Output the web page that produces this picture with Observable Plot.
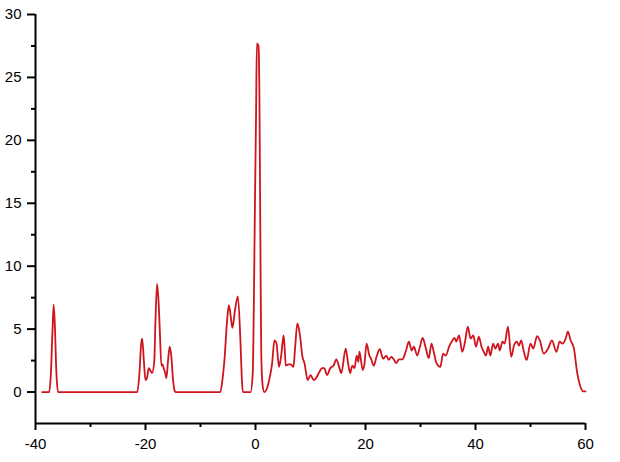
<!DOCTYPE html>
<html>
<head>
<meta charset="utf-8">
<script src="https://cdn.jsdelivr.net/npm/d3@7"></script>
<script src="https://cdn.jsdelivr.net/npm/@observablehq/plot@0.6"></script>
<style>
  html, body { margin: 0; padding: 0; background: #fff; }
  #chart svg { display: block; }
</style>
</head>
<body>
<div id="chart"></div>
<script>
const xValues = [
  -38.8, -37.5, -37.2, -36.9, -36.7, -36.5, -36.2, -35.9,
  -21.5, -21.1, -20.8, -20.6, -20.3, -20.0, -19.7, -19.4, -19.1, -18.8, -18.4, -18.2,
  -17.9, -17.6, -17.4, -17.1, -16.9, -16.7, -16.4, -16.2, -15.9, -15.6, -15.3, -15.0, -14.7, -14.5,
  -6.4, -6.0, -5.6, -5.2, -4.85, -4.5, -4.2, -3.7, -3.2, -2.7, -2.5, -2.3,
  -0.9, -0.5, -0.3, -0.1, 0.1, 0.25, 0.55, 0.7, 0.8, 0.95, 1.05, 1.3, 1.6,
  2.3, 2.6, 3.0, 3.45, 3.8, 4.1, 4.3, 4.7, 5.1, 5.3, 5.5, 6.0, 6.4, 6.9, 7.2, 7.6, 7.9,
  8.2, 8.5, 8.9, 9.5, 10.0, 10.6, 11.0, 11.5, 12.1, 12.5, 13.0, 13.6, 14.2, 14.7, 15.2, 15.6,
  16.4, 16.8, 17.2, 17.6, 18.0, 18.4, 18.7, 18.9, 19.5, 19.8, 20.2, 20.7, 21.0, 21.5, 22.0,
  22.6, 23.2, 23.8, 24.2, 24.7, 25.2, 25.6, 26.1, 26.7, 27.3, 27.9, 28.4, 28.8, 29.4, 29.9,
  30.4, 30.9, 31.5, 32.0, 32.4, 32.9, 33.6, 34.1, 34.6, 35.2, 35.8, 36.2, 36.5, 37.0, 37.6,
  38.1, 38.6, 39.1, 39.6, 40.1, 40.6, 41.1, 41.5, 41.9, 42.3, 42.7, 43.2, 43.6, 44.1, 44.4,
  44.9, 45.3, 45.9, 46.5, 47.0, 47.5, 47.9, 48.3, 48.8, 49.3, 50.0, 50.5, 51.2, 51.7, 52.4,
  53.2, 53.9, 54.7, 55.3, 55.8, 56.4, 56.8, 57.3, 57.9, 58.5, 59.1, 59.6, 60.0
];
const yValues = [
  0, 0, 1.5, 5.0, 6.95, 5.5, 1.5, 0,
  0, 1.5, 3.8, 4.25, 2.5, 0.95, 1.2, 1.9, 1.7, 1.5, 2.5, 5.5,
  8.6, 7.0, 4.9, 2.1, 2.2, 1.9, 1.5, 1.1, 2.5, 3.6, 2.8, 1.0, 0.1, 0,
  0, 1.0, 2.8, 5.5, 6.9, 6.0, 5.1, 6.6, 7.6, 3.6, 1.2, 0,
  0, 1.5, 7, 15, 22, 27.7, 27.5, 24, 18, 8, 3, 0.5, 0,
  0.6, 1.2, 2.2, 4.1, 3.9, 2.6, 2.0, 3.0, 4.5, 3.5, 2.1, 2.2, 2.2, 2.0, 3.5, 5.45, 5.0,
  4.1, 2.9, 2.3, 0.95, 1.35, 0.95, 1.1, 1.5, 1.9, 1.9, 1.35, 1.9, 2.1, 2.6, 2.0, 1.5,
  3.45, 2.4, 1.5, 2.1, 1.9, 2.9, 2.4, 3.2, 1.75, 2.2, 3.85, 2.9, 2.65, 2.1, 2.8,
  3.4, 2.65, 2.9, 2.55, 2.8, 2.55, 2.3, 2.6, 2.6, 3.2, 4.0, 3.3, 3.6, 2.9, 3.6,
  4.3, 3.6, 2.7, 3.85, 3.2, 2.3, 2.0, 3.05, 2.9, 3.6, 4.1, 4.3, 4.0, 4.5, 3.2,
  4.0, 5.2, 4.25, 4.5, 3.6, 4.4, 3.6, 3.2, 2.9, 3.6, 2.9, 3.85, 3.45, 3.85, 3.3,
  4.0, 3.85, 5.2, 2.8, 3.7, 4.0, 3.7, 4.1, 3.2, 2.55, 3.85, 3.45, 4.45, 4.1, 3.05,
  3.45, 4.1, 3.2, 4.0, 3.85, 4.25, 4.8, 4.1, 3.45, 1.5, 0.4, 0.05, 0.05
];

const xMajorTicks = [-40, -20, 0, 20, 40, 60];
const xMinorTicks = [-30, -10, 10, 30, 50];
const yMajorTicks = [0, 5, 10, 15, 20, 25, 30];
const yMinorTicks = [2.5, 7.5, 12.5, 17.5, 22.5, 27.5];
const xDomain = [-40, 60];
const yDomain = [-2.5, 30];

const data = xValues.map((x, i) => ({x, y: yValues[i]}));

const chart = Plot.plot({
  width: 620,
  height: 462,
  marginLeft: 35,
  marginRight: 35,
  marginTop: 14,
  marginBottom: 39,
  style: {fontFamily: "'Liberation Sans', Arial, sans-serif", fontSize: "15px", color: "#000", background: "#fff"},
  x: {domain: xDomain, axis: null},
  y: {domain: yDomain, axis: null},
  marks: [
    Plot.line(data, {x: "x", y: "y", stroke: "#d0141e", strokeWidth: 1.8, curve: "monotone-x"}),
    Plot.axisX(xMinorTicks, {tickSize: 4, tickFormat: () => "", strokeWidth: 2, label: null}),
    Plot.axisX(xMajorTicks, {tickSize: 7, tickPadding: 8, tickFormat: d => String(d), strokeWidth: 2, fontSize: 15, label: null}),
    Plot.axisY(yMinorTicks, {tickSize: 4, tickFormat: () => "", strokeWidth: 2, label: null}),
    Plot.axisY(yMajorTicks, {tickSize: 8, tickPadding: 6, tickFormat: d => String(d), strokeWidth: 2, fontSize: 15, label: null}),
    Plot.ruleX([xDomain[0]], {stroke: "#000", strokeWidth: 2}),
    Plot.ruleY([yDomain[0]], {stroke: "#000", strokeWidth: 2})
  ]
});
document.getElementById("chart").appendChild(chart);
</script>
</body>
</html>
